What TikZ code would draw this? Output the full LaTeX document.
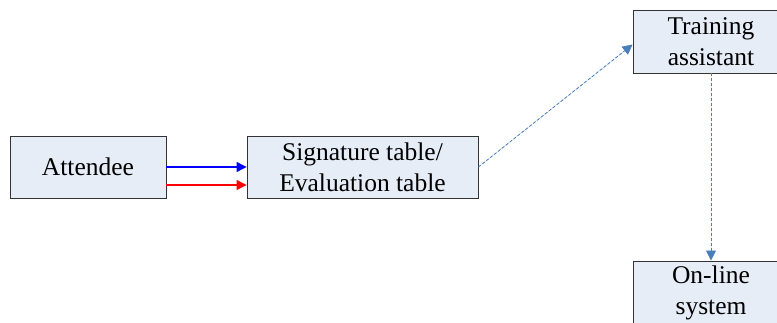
\documentclass[tikz,border=0pt]{standalone}
\usepackage{fontspec}
\setmainfont{LiberationSerif-Regular.ttf}
\newfontfamily\boxfont{LiberationSerif-Regular.ttf}
\usepackage{xcolor}
\usetikzlibrary{arrows.meta}
\usetikzlibrary{positioning}
\definecolor{boxfill}{HTML}{E6EDF7}
\definecolor{dashblue}{HTML}{4A7EBB}
\tikzset{%
	blk/.style={rectangle,fill=boxfill,draw=black!80,line width=0.9,minimum height=62pt,inner sep=0pt,align=center,font=\boxfont\fontsize{25.5}{31}\selectfont},
	solidarr/.style={arrows={-Triangle[length=10pt,width=10pt]},line width=1.1,draw=#1,fill=#1},
	dasharr/.style={arrows={-Triangle[length=10pt,width=10pt,sep=0pt]},line width=0.8,draw=dashblue,fill=dashblue,dash pattern=on 3pt off 2pt},
}
\begin{document}
\begin{tikzpicture}[x=1pt,y=1pt]
	\useasboundingbox (0,0) rectangle (777,322);
	\clip (0,0) rectangle (777,322);
	\node (att) at (88,155) [blk,minimum width=156pt] {Attendee};
	\node (sig) at (362.5,155) [blk,minimum width=231pt] {Signature table/\\Evaluation table};
	\node (ta) at (711,280.5) [blk,minimum width=156pt,minimum height=63pt] {Training\\assistant};
	\node (ol) at (711,29.5) [blk,minimum width=156pt,minimum height=63pt] {On-line\\system};
	
	\draw[solidarr=blue] (att.east) -- (sig.west);
	\draw[solidarr=red] ([yshift=-18pt]att.east) -- ([yshift=-18pt]sig.west);
	\draw[dasharr] (sig.east) -- ([yshift=-3pt]ta.west);
	\draw[dasharr] (ta.south) -- (ol.north);
\end{tikzpicture}
\end{document}
